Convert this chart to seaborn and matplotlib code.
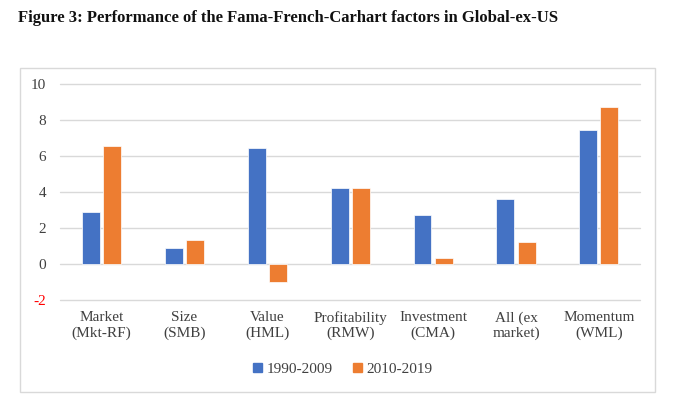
import matplotlib.pyplot as plt
import matplotlib.patches as mpatches
import numpy as np
import pandas as pd
import seaborn as sns

factors = ['Market\n(Mkt-RF)', 'Size\n(SMB)', 'Value\n(HML)', 'Profitability\n(RMW)',
           'Investment\n(CMA)', 'All (ex\nmarket)', 'Momentum\n(WML)']
early = [2.87, 0.91, 6.46, 4.23, 2.70, 3.59, 7.44]
late = [6.56, 1.33, -1.0, 4.23, 0.35, 1.24, 8.72]
periods = ['1990-2009', '2010-2019']
colors = ['#4472C4', '#ED7D31']

df = pd.DataFrame({'factor': factors * 2,
                   'value': early + late,
                   'period': [periods[0]] * len(factors) + [periods[1]] * len(factors)})

sns.set_theme(style='white')
plt.rcParams['font.family'] = ['Liberation Serif', 'DejaVu Serif']

fig = plt.figure(figsize=(6.9, 4.07), dpi=100)
ax = fig.add_axes([0.087, 0.263, 0.841, 0.531])

sns.barplot(data=df, x='factor', y='value', hue='period', palette=colors,
            saturation=1, width=0.51, gap=0.15, edgecolor='white', linewidth=0.5,
            ax=ax, legend=False)

ax.set_ylim(-2, 10)
ax.set_yticks(range(-2, 11, 2))
ax.yaxis.grid(True, color='#D9D9D9', linewidth=1)
for gl in ax.get_ygridlines():
    gl.set_clip_on(False)
ax.set_axisbelow(True)
for s in ax.spines.values():
    s.set_visible(False)
ax.set_xlabel('')
ax.set_ylabel('')
ax.tick_params(axis='both', length=0, labelsize=11, colors='#404040')
ax.tick_params(axis='y', pad=10)
ax.tick_params(axis='x', pad=8)
ax.set_yticklabels([str(t) for t in range(-2, 11, 2)])
ax.get_yticklabels()[0].set_color('red')

handles = [mpatches.Patch(color=c, label=p) for c, p in zip(colors, periods)]
fig.legend(handles=handles, loc='center', bbox_to_anchor=(0.497, 0.093), ncol=2,
           frameon=False, fontsize=11, handlelength=0.6, handleheight=0.6,
           handletextpad=0.3, columnspacing=1.3, labelcolor='#404040')

fig.patches.append(mpatches.Rectangle((20 / 690, 1 - 392 / 407), 635 / 690, 324 / 407,
                                      transform=fig.transFigure, fill=False,
                                      edgecolor='#D9D9D9', linewidth=1))

fig.text(18 / 690, 1 - 22 / 407,
         'Figure 3: Performance of the Fama-French-Carhart factors in Global-ex-US',
         fontsize=12, fontweight='bold', color='#111111')

fig.savefig('out.png', dpi=100)
